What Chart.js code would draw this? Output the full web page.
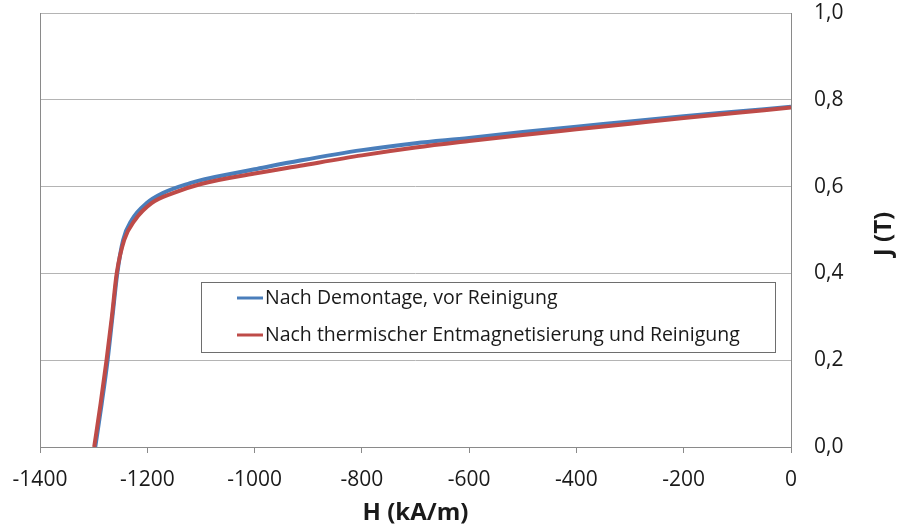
<!DOCTYPE html>
<html>
<head>
<meta charset="utf-8">
<script src="https://cdn.jsdelivr.net/npm/chart.js@4/dist/chart.umd.min.js"></script>
<style>
  html, body { margin: 0; padding: 0; background: #fff; }
  #wrap { width: 900px; height: 530px; }
</style>
</head>
<body>
<div id="wrap"><canvas id="canvas" width="900" height="530"></canvas></div>
<script>
// Entmagnetisierungskurven J(H)
var hBlue = [-1297, -1285, -1274, -1265, -1256, -1245, -1229, -1201, -1171, -1120, -1100, -1050, -1000, -915, -800, -700, -600, -500, -400, -300, -200, -100, 0];
var jBlue = [0, 0.10, 0.20, 0.30, 0.40, 0.477, 0.523, 0.562, 0.585, 0.608, 0.615, 0.628, 0.640, 0.660, 0.684, 0.700, 0.712, 0.726, 0.738, 0.750, 0.762, 0.773, 0.784];

var hRed = [-1299, -1287, -1276, -1266, -1257, -1243, -1223, -1192, -1152, -1100, -1000, -915, -800, -700, -600, -500, -400, -300, -200, -100, 0];
var jRed = [0, 0.10, 0.20, 0.30, 0.40, 0.477, 0.523, 0.562, 0.585, 0.606, 0.630, 0.648, 0.672, 0.690, 0.705, 0.719, 0.732, 0.745, 0.758, 0.770, 0.782];

var seriesLabels = ['Nach Demontage, vor Reinigung', 'Nach thermischer Entmagnetisierung und Reinigung'];
var xTitle = 'H (kA/m)';
var yTitle = 'J (T)';

var FONT = "'Open Sans', 'DejaVu Sans', sans-serif";
var TEXT = '#1a1a1a';
var GRID = '#b4b4b4';
var AXIS = '#8a8a8a';

function toPoints(xs, ys) {
	return xs.map(function(x, i) { return { x: x, y: ys[i] }; });
}

// Rahmen links um die Zeichenfläche
var frame = {
	id: 'frame',
	beforeDatasetsDraw: function(chart) {
		var a = chart.chartArea, c = chart.ctx;
		c.save();
		c.strokeStyle = AXIS;
		c.lineWidth = 1;
		c.beginPath();
		c.moveTo(Math.round(a.left) + 0.5, a.top);
		c.lineTo(Math.round(a.left) + 0.5, a.bottom);
		c.stroke();
		c.restore();
	}
};

// Legende im Diagramm + Achsentitel rechts (von unten nach oben)
var boxLegend = {
	id: 'boxLegend',
	afterDraw: function(chart) {
		var c = chart.ctx;
		var bx = 201, by = 282, bw = 574, bh = 70;
		c.save();
		c.fillStyle = '#fff';
		c.fillRect(bx, by, bw, bh);
		c.strokeStyle = '#6e6e6e';
		c.lineWidth = 1;
		c.strokeRect(bx + 0.5, by + 0.5, bw, bh);
		c.font = '19.5px ' + FONT;
		c.textBaseline = 'middle';
		chart.data.datasets.forEach(function(ds, i) {
			var y = by + 16 + i * 37;
			c.strokeStyle = ds.borderColor;
			c.lineWidth = 3;
			c.beginPath();
			c.moveTo(237, y);
			c.lineTo(263, y);
			c.stroke();
			c.fillStyle = TEXT;
			c.fillText(ds.label, 265, y);
		});

		c.translate(884, 234);
		c.rotate(-Math.PI / 2);
		c.font = 'bold 24px ' + FONT;
		c.textAlign = 'center';
		c.textBaseline = 'middle';
		c.fillStyle = TEXT;
		c.fillText(yTitle, 0, 0);
		c.restore();
	}
};

window.onload = function() {
	var ctx = document.getElementById('canvas').getContext('2d');
	window.myLine = new Chart(ctx, {
		type : 'line',
		data : {
			datasets : [ {
				label : seriesLabels[0],
				data : toPoints(hBlue, jBlue),
				borderColor : '#4a7ebb',
				borderWidth : 4,
				order : 2
			}, {
				label : seriesLabels[1],
				data : toPoints(hRed, jRed),
				borderColor : '#be4b48',
				borderWidth : 4,
				order : 1
			} ]
		},
		options : {
			responsive : false,
			animation : false,
			cubicInterpolationMode : 'monotone',
			elements : { point : { radius : 0 } },
			layout : { padding : { left : 40, top : 13, right : 0, bottom : 0 } },
			plugins : {
				legend : { display : false },
				tooltip : { enabled : false }
			},
			scales : {
				x : {
					type : 'linear',
					min : -1400,
					max : 0,
					ticks : {
						stepSize : 200,
						padding : 14,
						color : TEXT,
						font : { family : FONT, size : 21 },
						maxRotation : 0,
						callback : function(v) { return String(v); }
					},
					grid : { drawOnChartArea : false, tickLength : 6, color : AXIS },
					border : { color : AXIS },
					title : {
						display : true,
						text : xTitle,
						color : TEXT,
						font : { family : FONT, size : 24, weight : 'bold' },
						padding : { top : 2, bottom : 2 }
					},
					afterFit : function(s) {
						s.height = 83;
						s.paddingLeft = 0;
						s.paddingRight = 0;
					}
				},
				y : {
					position : 'right',
					min : 0,
					max : 1,
					ticks : {
						stepSize : 0.2,
						padding : 23,
						color : TEXT,
						font : { family : FONT, size : 21 },
						callback : function(v) { return v.toFixed(1).replace('.', ','); }
					},
					grid : { color : GRID, drawTicks : false },
					border : { color : AXIS },
					afterFit : function(s) {
						s.width = 109;
						s.paddingTop = 0;
						s.paddingBottom = 0;
					}
				}
			}
		},
		plugins : [ frame, boxLegend ]
	});
};
</script>
</body>
</html>
